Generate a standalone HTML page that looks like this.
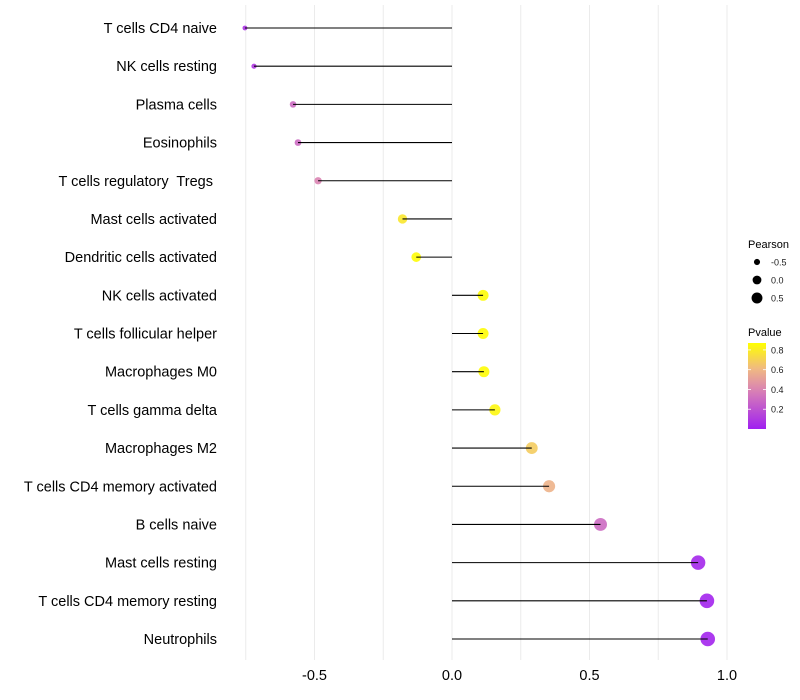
<!DOCTYPE html>
<html><head><meta charset="utf-8"><style>
body{margin:0;background:#fff;}
svg{display:block;font-family:"Liberation Sans",sans-serif;}
text{white-space:pre;}
</style></head><body>
<svg id="chart" width="800" height="700" viewBox="0 0 800 700"></svg>
<script>
const categories=["T cells CD4 naive","NK cells resting","Plasma cells","Eosinophils","T cells regulatory  Tregs ","Mast cells activated","Dendritic cells activated","NK cells activated","T cells follicular helper","Macrophages M0","T cells gamma delta","Macrophages M2","T cells CD4 memory activated","B cells naive","Mast cells resting","T cells CD4 memory resting","Neutrophils"];
const pearson=[-0.753,-0.72,-0.578,-0.56,-0.487,-0.18,-0.13,0.113,0.113,0.116,0.156,0.29,0.353,0.54,0.895,0.927,0.93];
const pvalue=[0.08,0.1,0.3,0.3,0.4,0.78,0.86,0.86,0.86,0.86,0.84,0.68,0.58,0.3,0.03,0.02,0.02];
const xTicks=[-0.5,0,0.5,1];
const xTickLabels=["-0.5","0.0","0.5","1.0"];
const sizeLegend=[-0.5,0,0.5];
const sizeLegendLabels=["-0.5","0.0","0.5"];
const pTicks=[0.2,0.4,0.6,0.8];

const NS="http://www.w3.org/2000/svg";
const svg=document.getElementById('chart');
function x(v){return 452+v*275;}
function y(i){return 28+i*(639-28)/(categories.length-1);}
function r(v){return Math.max(1.5,Math.sqrt(Math.max(0,27+28*v)));}
const pMin=0.0,pMax=0.87;
const stops=[[0,[160,32,240]],[0.45,[217,130,180]],[0.7,[240,185,130]],[1,[255,255,0]]];
function col(p){let t=(p-pMin)/(pMax-pMin);t=Math.max(0,Math.min(1,t));
 for(let k=1;k<stops.length;k++){if(t<=stops[k][0]){const a=stops[k-1],b=stops[k];const u=(t-a[0])/(b[0]-a[0]);
 const c=a[1].map((v,j)=>Math.round(v+(b[1][j]-v)*u));return `rgb(${c})`;}}return 'rgb(255,255,0)';}
function el(tag,attrs,parent){const e=document.createElementNS(NS,tag);for(const k in attrs)e.setAttribute(k,attrs[k]);(parent||svg).appendChild(e);return e;}

const grid=el('g',{});


for(let v=-0.75;v<=1.0001;v+=0.25){el('line',{x1:x(v),x2:x(v),y1:5,y2:660,stroke:'#ebebeb','stroke-width':1},grid);}
for(let i=0;i<categories.length;i++){
 const c=el('circle',{cx:x(pearson[i]),cy:y(i),r:r(pearson[i]),fill:col(pvalue[i]),'fill-opacity':0.9});
 
 
 const s=el('line',{x1:x(0),x2:x(pearson[i]),y1:y(i),y2:y(i),stroke:'#000','stroke-width':1.1});
 
 
 const t=el('text',{x:217,y:y(i)+5,'text-anchor':'end','font-size':14.5,fill:'#000'});
 t.textContent=categories[i];
 
 
}
for(let k=0;k<xTicks.length;k++){
 const t=el('text',{x:x(xTicks[k]),y:680,'text-anchor':'middle','font-size':14.5,fill:'#000'});
 t.textContent=xTickLabels[k];
 
 
}
const lt=el('text',{x:748,y:248,'font-size':11,fill:'#000'});lt.textContent='Pearson';


for(let k=0;k<sizeLegend.length;k++){
 const cy=262+k*18;
 const c=el('circle',{cx:757,cy:cy,r:r(sizeLegend[k])*0.85,fill:'#000'});
 
 
 const t=el('text',{x:771,y:cy+3.5,'font-size':9,fill:'#1a1a1a'});t.textContent=sizeLegendLabels[k];
 
 
}
const ct=el('text',{x:748,y:336,'font-size':11,fill:'#000'});ct.textContent='Pvalue';


const defs=el('defs',{});
const lg=el('linearGradient',{id:'pg',x1:0,y1:1,x2:0,y2:0},defs);
for(let k=0;k<=10;k++){el('stop',{offset:k/10,'stop-color':col(pMin+(pMax-pMin)*k/10)},lg);}
const cb=el('rect',{x:748,y:343,width:18,height:86,fill:'url(#pg)'});


function py(p){return 429-(p-pMin)/(pMax-pMin)*86;}
for(const p of pTicks){
 el('line',{x1:748,x2:751,y1:py(p),y2:py(p),stroke:'#fff','stroke-width':0.8});
 el('line',{x1:763,x2:766,y1:py(p),y2:py(p),stroke:'#fff','stroke-width':0.8});
 const t=el('text',{x:771,y:py(p)+3.5,'font-size':9,fill:'#1a1a1a'});t.textContent=p.toFixed(1);
 
 
}
</script>
</body></html>
